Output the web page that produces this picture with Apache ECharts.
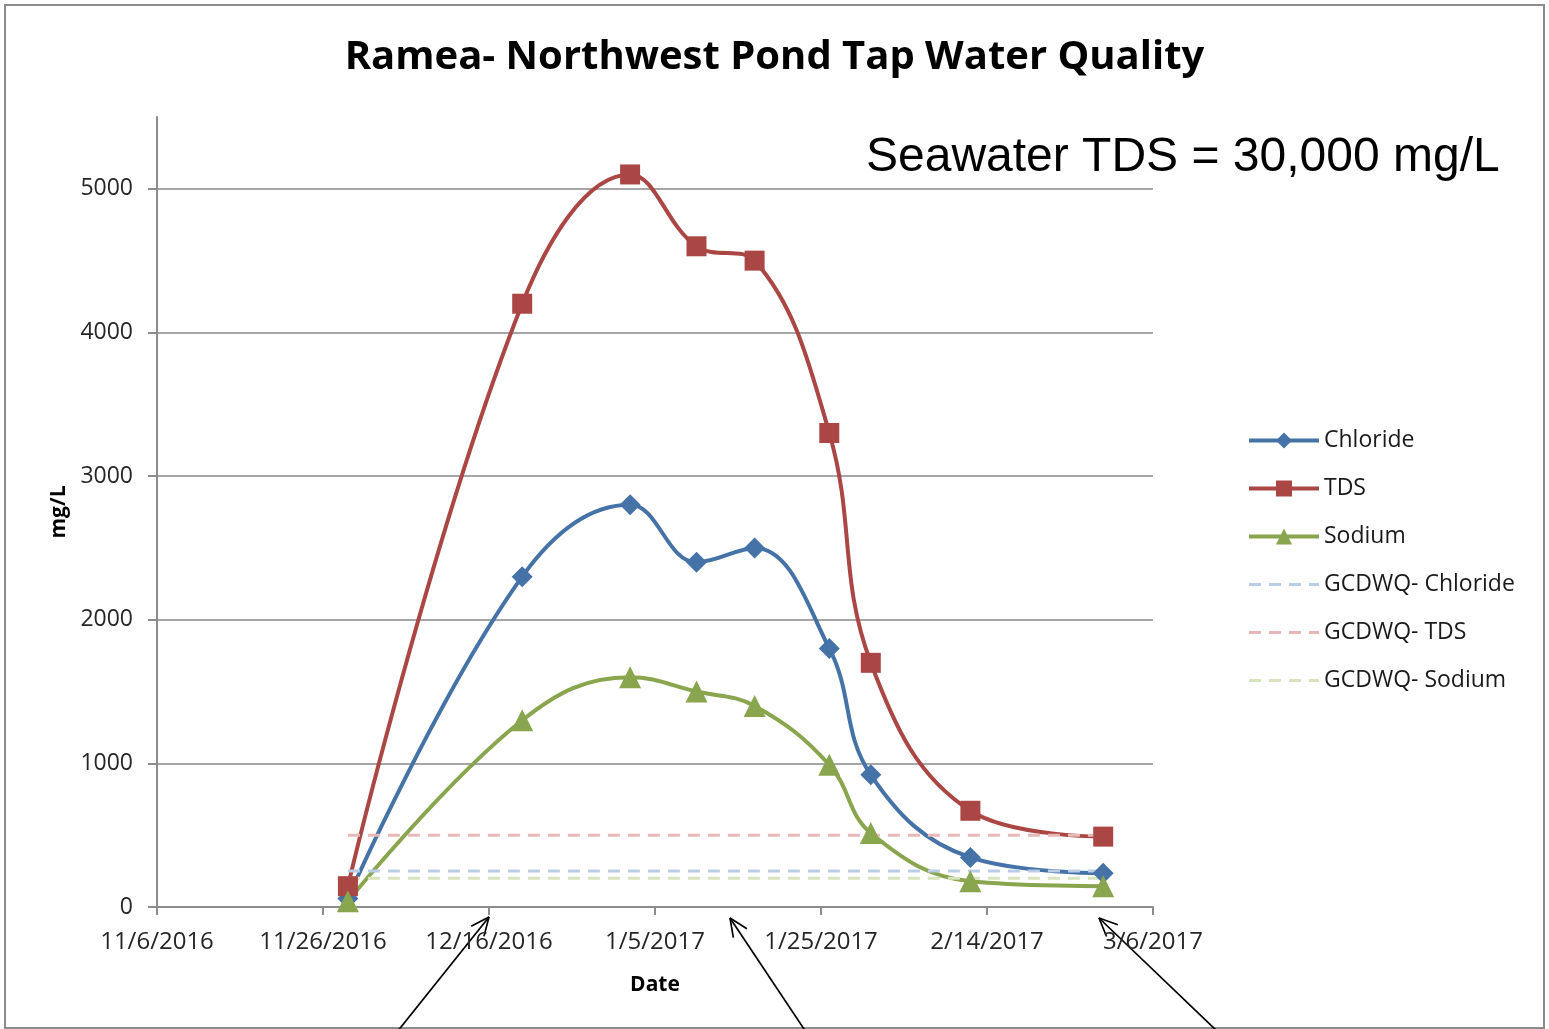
<!DOCTYPE html>
<html>
<head>
<meta charset="utf-8">
<title>Ramea- Northwest Pond Tap Water Quality</title>
<script src="https://cdn.jsdelivr.net/npm/echarts@6/dist/echarts.min.js"></script>
<style>
  html, body { margin: 0; padding: 0; background: #fff; }
  #main { width: 1549px; height: 1029px; }
</style>
</head>
<body>
<div id="main"></div>
<script>
// sample dates (M/D/YYYY) and measured values in mg/L
var sampleDates = ['11/29/2016', '12/20/2016', '1/2/2017', '1/10/2017', '1/17/2017', '1/26/2017', '1/31/2017', '2/12/2017', '2/28/2017'];
var chloride = [60, 2300, 2800, 2400, 2500, 1800, 920, 345, 235];
var tds      = [145, 4200, 5100, 4600, 4500, 3300, 1700, 670, 490];
var sodium   = [40, 1300, 1600, 1500, 1400, 990, 515, 180, 145];

// GCDWQ guideline values
var gcdwqChloride = 250;
var gcdwqTds = 500;
var gcdwqSodium = 200;

// x axis: days counted from 11/6/2016, a tick every 20 days up to 3/6/2017
var xStartDate = '11/6/2016';
var xTickDays = 20;
var xEndDays = 120;
// y axis ticks
var yTicks = [0, 1000, 2000, 3000, 4000, 5000];
var yMax = 5500;

var DAY = 86400000;
function parseDate(s) {
    var p = s.split('/');
    return Date.UTC(+p[2], +p[0] - 1, +p[1]);
}
var t0 = parseDate(xStartDate);
function dayOf(s) {
    return Math.round((parseDate(s) - t0) / DAY);
}
function fmtDay(v) {
    var d = new Date(t0 + v * DAY);
    return (d.getUTCMonth() + 1) + '/' + d.getUTCDate() + '/' + d.getUTCFullYear();
}
function pairs(vals) {
    return sampleDates.map(function (d, i) { return [dayOf(d), vals[i]]; });
}
function flat(v) {
    return sampleDates.map(function (d) { return [dayOf(d), v]; });
}

// open arrow drawn as three strokes
function arrow(x1, y1, x2, y2) {
    var a = Math.atan2(y2 - y1, x2 - x1);
    var len = 20, spread = 0.42;
    var st = { stroke: '#000', lineWidth: 1.7 };
    return {
        type: 'group',
        children: [
            { type: 'line', shape: { x1: x1, y1: y1, x2: x2, y2: y2 }, style: st },
            { type: 'line', shape: { x1: x2, y1: y2, x2: x2 - len * Math.cos(a - spread), y2: y2 - len * Math.sin(a - spread) }, style: st },
            { type: 'line', shape: { x1: x2, y1: y2, x2: x2 - len * Math.cos(a + spread), y2: y2 - len * Math.sin(a + spread) }, style: st }
        ]
    };
}

var FONT = '"Open Sans", "Noto Sans", sans-serif';
var DASH = [12, 8];
var chart = echarts.init(document.getElementById('main'));

var option = {
    backgroundColor: '#fff',
    animation: false,
    title: {
        text: 'Ramea- Northwest Pond Tap Water Quality',
        left: 'center',
        top: 33,
        textStyle: { fontFamily: FONT, fontWeight: 'bold', fontSize: 40, color: '#000' }
    },
    legend: {
        orient: 'vertical',
        left: 1242,
        top: 424,
        itemWidth: 70,
        itemHeight: 20,
        itemGap: 25,
        textStyle: { fontFamily: FONT, fontSize: 23, color: '#1a1a1a' },
        data: [
            { name: 'Chloride', lineStyle: { width: 4 } },
            { name: 'TDS', lineStyle: { width: 4 } },
            { name: 'Sodium', lineStyle: { width: 4 } },
            { name: 'GCDWQ- Chloride', itemStyle: { opacity: 0 }, lineStyle: { width: 3, type: DASH } },
            { name: 'GCDWQ- TDS', itemStyle: { opacity: 0 }, lineStyle: { width: 3, type: DASH } },
            { name: 'GCDWQ- Sodium', itemStyle: { opacity: 0 }, lineStyle: { width: 3, type: DASH } }
        ]
    },
    grid: { left: 157, right: 396, top: 117, bottom: 122 },
    xAxis: {
        type: 'value',
        min: 0,
        max: xEndDays,
        interval: xTickDays,
        name: 'Date',
        nameLocation: 'middle',
        nameGap: 68,
        nameTextStyle: { fontFamily: FONT, fontWeight: 'bold', fontSize: 21, color: '#000' },
        axisLine: { lineStyle: { color: '#8c8c8c', width: 2 } },
        axisTick: { show: true, inside: false, length: 8, lineStyle: { color: '#8c8c8c', width: 2 } },
        axisLabel: { fontFamily: FONT, fontSize: 24, color: '#262626', margin: 23, formatter: fmtDay },
        splitLine: { show: false }
    },
    yAxis: {
        type: 'value',
        min: 0,
        max: yMax,
        interval: 1000,
        name: 'mg/L',
        nameLocation: 'middle',
        nameRotate: 90,
        nameGap: 84,
        nameTextStyle: { fontFamily: FONT, fontWeight: 'bold', fontSize: 21, color: '#000' },
        axisLine: { show: true, lineStyle: { color: '#8c8c8c', width: 2 } },
        axisTick: { show: true, length: 9, customValues: yTicks, lineStyle: { color: '#8c8c8c', width: 2 } },
        axisLabel: {
            fontFamily: FONT, fontSize: 23, color: '#262626', margin: 24, customValues: yTicks,
            formatter: function (v) { return String(v); }
        },
        splitLine: {
            show: true,
            lineStyle: { color: ['#a6a6a6', '#a6a6a6', '#a6a6a6', '#a6a6a6', '#a6a6a6', '#a6a6a6', 'rgba(0,0,0,0)'], width: 2 }
        }
    },
    series: [
        {
            name: 'Chloride', type: 'line', smooth: 0.4,
            data: pairs(chloride),
            symbol: 'diamond', symbolSize: 21,
            lineStyle: { color: '#4572a7', width: 4 },
            itemStyle: { color: '#4572a7' }
        },
        {
            name: 'TDS', type: 'line', smooth: 0.4,
            data: pairs(tds),
            symbol: 'rect', symbolSize: 20,
            lineStyle: { color: '#aa4643', width: 4 },
            itemStyle: { color: '#aa4643' }
        },
        {
            name: 'Sodium', type: 'line', smooth: 0.4,
            data: pairs(sodium),
            symbol: 'triangle', symbolSize: 22,
            lineStyle: { color: '#89a54e', width: 4 },
            itemStyle: { color: '#89a54e' }
        },
        {
            name: 'GCDWQ- Chloride', type: 'line',
            data: flat(gcdwqChloride),
            symbol: 'none',
            lineStyle: { color: '#b9cde5', width: 3, type: DASH },
            itemStyle: { color: '#b9cde5' }
        },
        {
            name: 'GCDWQ- TDS', type: 'line',
            data: flat(gcdwqTds),
            symbol: 'none',
            lineStyle: { color: '#e6b9b8', width: 3, type: DASH },
            itemStyle: { color: '#e6b9b8' }
        },
        {
            name: 'GCDWQ- Sodium', type: 'line',
            data: flat(gcdwqSodium),
            symbol: 'none',
            lineStyle: { color: '#d7e4bd', width: 3, type: DASH },
            itemStyle: { color: '#d7e4bd' }
        }
    ],
    graphic: [
        {
            type: 'rect',
            shape: { x: 5, y: 5, width: 1539, height: 1023 },
            style: { fill: 'none', stroke: '#8c8c8c', lineWidth: 2 },
            z: -1
        },
        {
            type: 'text',
            x: 866, y: 158,
            style: {
                text: 'Seawater TDS = 30,000 mg/L',
                font: '48px "Liberation Sans", Arial, sans-serif',
                fill: '#000',
                verticalAlign: 'middle'
            }
        },
        arrow(397, 1032, 489, 917),
        arrow(806, 1032, 730, 918),
        arrow(1218, 1032, 1099, 918)
    ]
};

chart.setOption(option);
</script>
</body>
</html>
